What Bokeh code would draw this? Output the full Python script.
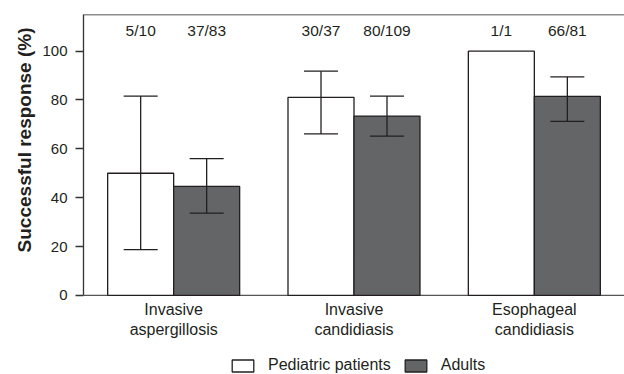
from bokeh.plotting import figure
from bokeh.models import (ColumnDataSource, FactorRange, Range1d, FixedTicker, Whisker,
                          TeeHead, Span, Legend, LegendItem, Title)
from bokeh.transform import dodge
from bokeh.core.properties import value
from bokeh.embed import file_html
from bokeh.resources import INLINE

categories = ["Invasive aspergillosis", "Invasive candidiasis", "Esophageal candidiasis"]
category_labels = ["Invasive\naspergillosis", "Invasive\ncandidiasis", "Esophageal\ncandidiasis"]
pediatric = [50.0, 81.1, 100.0]
pediatric_lower = [18.7, 66.1]
pediatric_upper = [81.6, 91.8]
pediatric_counts = ["5/10", "30/37", "1/1"]
adults = [44.6, 73.4, 81.5]
adults_lower = [33.7, 65.2, 71.2]
adults_upper = [56.0, 81.6, 89.5]
adults_counts = ["37/83", "80/109", "66/81"]
y_ticks = [0, 20, 40, 60, 80, 100]
count_y = 108.3
label_y = -2.3

FONT = "Liberation Sans"
LINE = "#231f20"
DARK = "#646567"
TXT = "#231f20"

src = ColumnDataSource(dict(cat=categories, lab=category_labels, ped=pediatric, adu=adults,
                            ped_n=pediatric_counts, adu_n=adults_counts,
                            adu_lo=adults_lower, adu_hi=adults_upper,
                            ty=[count_y] * 3, ly=[label_y] * 3))
ped_err = ColumnDataSource(dict(cat=categories[:2], lo=pediatric_lower, hi=pediatric_upper))

p = figure(x_range=FactorRange(*categories, range_padding=0), y_range=Range1d(-32.4, 115),
           width=624, height=374, output_backend="svg", toolbar_location=None,
           min_border_left=83, min_border_right=0, min_border_top=14, min_border_bottom=0)
p.x_range.factor_padding = 0
p.outline_line_color = None
p.grid.visible = False
p.xaxis.visible = False

off = 0.183
w = 0.366
r1 = p.vbar(x=dodge("cat", -off, range=p.x_range), top="ped", bottom=0, width=w, source=src,
            fill_color="white", line_color=LINE, line_width=1.3)
r2 = p.vbar(x=dodge("cat", off, range=p.x_range), top="adu", bottom=0, width=w, source=src,
            fill_color=DARK, line_color=LINE, line_width=1.3)

for s, xo, lo, hi in [(ped_err, -off, "lo", "hi"), (src, off, "adu_lo", "adu_hi")]:
    wk = Whisker(base=dodge("cat", xo, range=p.x_range), lower=lo, upper=hi, source=s,
                 line_color=LINE, line_width=1.3, level="overlay",
                 upper_head=TeeHead(size=34, line_color=LINE, line_width=1.3),
                 lower_head=TeeHead(size=34, line_color=LINE, line_width=1.3))
    p.add_layout(wk)

for xo, col in [(-off, "ped_n"), (off, "adu_n")]:
    p.text(x=dodge("cat", xo, range=p.x_range), y="ty", text=col, source=src,
           text_align="center", text_baseline="middle", text_font=value(FONT),
           text_font_size="15.5px", text_color=TXT)

p.text(x="cat", y="ly", text="lab", source=src, text_align="center", text_baseline="top",
       text_font=value(FONT), text_font_size="16px", text_color=TXT, text_line_height=1.15)

p.add_layout(Span(location=115, dimension="width", line_color=LINE, line_width=1.3))
p.add_layout(Span(location=0, dimension="width", line_color="#555555", line_width=1.3,
                  level="underlay"))

p.yaxis.bounds = (0, 115)
p.yaxis.ticker = FixedTicker(ticks=y_ticks)
p.yaxis.minor_tick_line_color = None
p.yaxis.major_tick_out = 8
p.yaxis.major_tick_in = 0
p.yaxis.major_label_standoff = 8
p.yaxis.axis_line_color = "#333333"
p.yaxis.major_tick_line_color = "#333333"
p.yaxis.axis_line_width = 1.3
p.yaxis.major_tick_line_width = 1.3
p.yaxis.major_label_text_font = FONT
p.yaxis.major_label_text_font_size = "15px"
p.yaxis.major_label_text_color = TXT

ytitle = Title(text="Successful response (%)", align="right", offset=13, standoff=10,
               text_font=FONT, text_font_style="bold", text_font_size="19px", text_color=TXT)
p.add_layout(ytitle, "left")

legend = Legend(items=[LegendItem(label="Pediatric patients", renderers=[r1]),
                       LegendItem(label="Adults", renderers=[r2])],
                orientation="horizontal", location=(146, 0), padding=0, margin=0,
                spacing=11, label_standoff=12, glyph_width=27, glyph_height=15,
                label_text_font=FONT, label_text_font_size="16px", label_text_color=TXT,
                border_line_color=None, background_fill_alpha=0, label_height=15)
p.add_layout(legend, "center")

open("out.html", "w").write(file_html(p, INLINE))
